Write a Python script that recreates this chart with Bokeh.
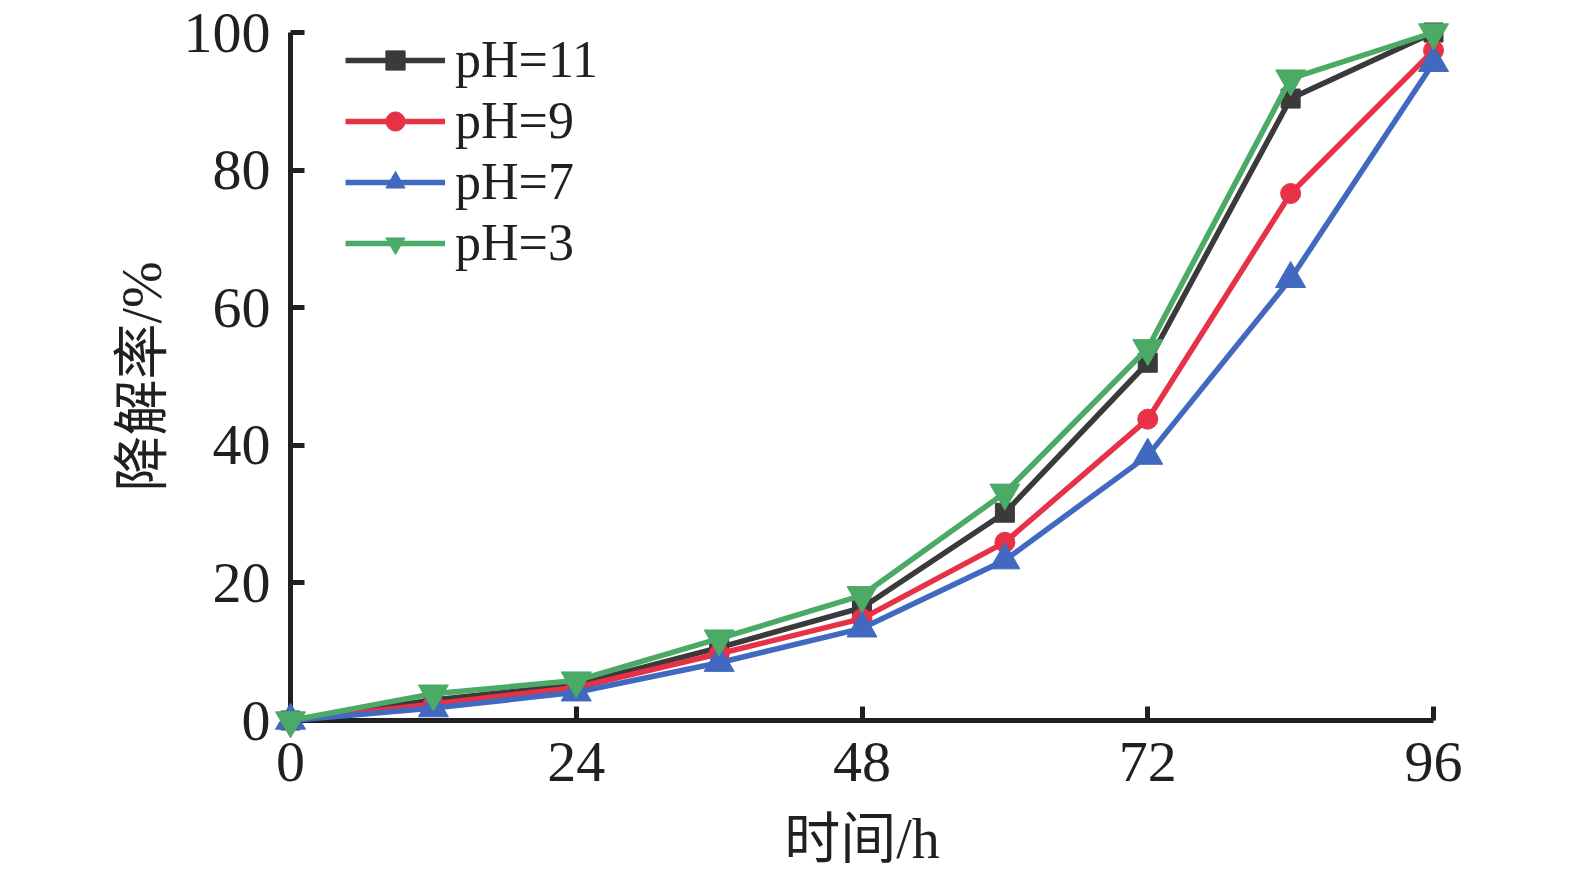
from bokeh.plotting import figure
from bokeh.models import Legend, LegendItem, FixedTicker, Range1d
from bokeh.embed import file_html
from bokeh.resources import INLINE

# ---- data ----
time_h = [0, 12, 24, 36, 48, 60, 72, 84, 96]
ph11 = [0, 3.0, 5.2, 10.6, 16.4, 30.2, 52.0, 90.4, 100]
ph9 = [0, 2.4, 4.8, 9.7, 14.8, 25.9, 43.8, 76.6, 97.4]
ph7 = [0, 1.8, 4.1, 8.4, 13.4, 23.3, 38.5, 64.2, 95.6]
ph3 = [0, 3.9, 5.8, 11.9, 18.2, 33.1, 54.1, 93.3, 100]
x_ticks = [0, 24, 48, 72, 96]
y_ticks = [0, 20, 40, 60, 80, 100]
series_labels = ["pH=11", "pH=9", "pH=7", "pH=3"]
x_label = "时间/h"
y_label = "降解率/%"

colors = ["#3a3a3a", "#e63147", "#4069bf", "#4caa67"]
markers = ["square", "circle", "triangle", "inverted_triangle"]
msizes = [19, 20, 30, 30]

LATIN = "Liberation Serif"
MIXED = "Liberation Serif, Noto Sans CJK SC"
AX = "#231f20"

p = figure(frame_width=1143, frame_height=688,
           x_range=Range1d(0, 96), y_range=Range1d(0, 100),
           output_backend="svg", toolbar_location=None,
           min_border_left=290, min_border_top=32, min_border_right=100,
           min_border_bottom=10)
p.outline_line_color = None
p.grid.visible = False
p.background_fill_color = "white"

for ax in (p.xaxis[0], p.yaxis[0]):
    ax.axis_line_width = 5
    ax.axis_line_color = AX
    ax.major_tick_line_width = 5
    ax.major_tick_line_color = AX
    ax.major_tick_in = 14
    ax.major_tick_out = 0
    ax.minor_tick_line_color = None
    ax.major_label_text_font = LATIN
    ax.major_label_text_font_size = "58px"
    ax.major_label_text_color = AX
    ax.axis_label_text_font = MIXED
    ax.axis_label_text_font_size = "56px"
    ax.axis_label_text_font_style = "normal"
    ax.axis_label_text_color = AX

p.xaxis.ticker = FixedTicker(ticks=x_ticks)
p.yaxis.ticker = FixedTicker(ticks=y_ticks)
p.xaxis.axis_label = x_label
p.yaxis.axis_label = y_label
p.xaxis.major_label_standoff = 22
p.yaxis.major_label_standoff = 20
p.xaxis.axis_label_standoff = 24
p.yaxis.axis_label_standoff = 8

items = []
for vals, lab, c, m, s in zip([ph11, ph9, ph7, ph3], series_labels, colors, markers, msizes):
    ln = p.line(time_h, vals, line_color=c, line_width=5.5, level="overlay")
    sc = p.scatter(time_h, vals, marker=m, size=s, fill_color=c, line_color=c,
                   level="overlay")
    items.append(LegendItem(label=lab, renderers=[ln, sc]))

legend = Legend(items=items, location=(55, 448), orientation="vertical",
                glyph_width=100, glyph_height=48, label_height=48,
                label_standoff=10, spacing=2, padding=0, margin=0,
                border_line_color=None, background_fill_alpha=0,
                label_text_font=LATIN, label_text_font_size="52px",
                label_text_color=AX)
p.add_layout(legend, "center")

open("out.html", "w").write(file_html(p, INLINE))
